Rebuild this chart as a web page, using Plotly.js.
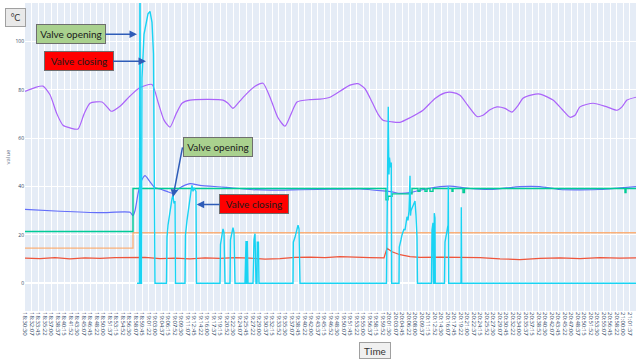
<!DOCTYPE html>
<html><head><meta charset="utf-8">
<script src="https://cdn.plot.ly/plotly-3.0.1.min.js"></script>
<style>html,body{margin:0;padding:0;background:#fff}#chart{width:640px;height:362px}</style>
</head><body><div id="chart"></div>
<script>
const DAY = '2021-01-01 ';

const purpleTimes = ["18:30:30","18:33:00","18:35:00","18:36:45","18:38:30","18:40:00","18:41:45","18:43:45","18:45:15","18:46:45",
  "18:49:45","18:51:00","18:52:00","18:54:15","18:56:45","18:59:15","19:02:15","19:03:45","19:05:15","19:06:45",
  "19:08:15","19:09:45","19:11:45","19:20:00","19:21:15","19:22:30","19:24:15","19:26:00","19:28:00","19:30:00",
  "19:31:45","19:33:45","19:35:30","19:37:00","19:38:30","19:41:45","19:44:15","19:46:45","19:49:15","19:51:45",
  "19:53:45","19:55:30","19:57:15","19:58:45","20:00:00","20:02:15","20:04:15","20:06:45","20:10:00","20:13:00",
  "20:15:30","20:17:15","20:19:15","20:21:15","20:23:30","20:25:00","20:26:45","20:28:30","20:30:30","20:32:15",
  "20:33:45","20:35:00","20:37:15","20:39:15","20:42:30","20:44:45","20:46:45","20:48:00","20:49:15","20:52:30",
  "20:56:00","20:58:30","20:59:45","21:01:00","21:03:15"];
const purpleVals = [79.4,81,81.6,78,70,65.4,64.3,63.8,70,74.5,
  75,73,71.2,73.3,77.5,81,82.3,75,67.5,64.6,
  70,74.5,75.8,75.8,74.5,72.4,75.5,78.6,81.5,82.8,
  77,68.5,65,70,75,76,76.2,77,79.5,82,
  82.6,80.5,75,70,67.5,66.8,66.6,68.5,71.6,76.5,
  78.8,79,77.8,73.5,69,69.5,71.8,73,72.4,70.8,
  73.5,76.6,78,78.3,75.8,72,68.7,69.5,73,74.5,
  73,71.6,73,75.8,77];

const blueTimes = ["18:30:30","18:39:15","18:49:15","18:56:45","18:57:30","18:58:00","18:58:45","18:59:30","19:00:30","19:01:45",
  "19:03:00","19:04:15","19:06:00","19:07:30","19:09:15","19:11:45","19:14:15","19:20:00","19:26:45","19:32:00",
  "19:39:15","19:47:30","19:54:15","20:00:00","20:02:15","20:04:15","20:06:45","20:09:15","20:14:15","20:16:45",
  "20:21:45","20:26:45","20:34:15","20:39:15","20:44:15","20:54:15","20:59:15","21:03:15"];
const blueVals = [30.6,29.8,29.2,29.4,28,30,37,42,44.5,42,
  39.5,39,38,37.2,39.5,41.2,40.5,39.8,38.8,38.5,
  38.7,38.9,39,38.2,37.8,37.2,37.5,38.5,40,40.2,
  39.2,38.8,40,40,38.8,38.8,39.5,40];

const greenTimes = ["18:30:30","18:57:30","20:00:45","20:01:15","20:02:15","20:07:15","20:08:45","20:09:15","20:10:30","20:11:00",
  "20:11:45","20:12:30","20:17:15","20:17:30","20:20:00","20:20:22","21:00:30","21:00:45","21:03:15"];
const greenVals = [21.4,39.2,34.5,36,37,39.2,38,39.2,38,39.2,
  38,39.2,38,39.2,37.5,39.2,37.5,39.2,39.2];

const orangeTimes = ["18:30:30","18:57:30","21:03:15"];
const orangeVals = [14.5,20.9,20.9];

const redTimes = ["18:30:30","18:34:15","18:38:00","18:41:45","18:45:30","18:49:15","18:53:00","18:56:45","19:00:30","19:04:15",
  "19:08:00","19:11:45","19:15:30","19:19:15","19:23:00","19:26:45","19:30:30","19:34:15","19:38:00","19:41:45",
  "19:45:30","19:49:15","19:53:00","19:56:45","20:00:15","20:01:00","20:02:15","20:04:15","20:06:45","20:09:15",
  "20:14:15","20:19:15","20:24:15","20:29:15","20:34:15","20:39:15","20:44:15","20:49:15","20:54:15","20:59:15","21:03:15"];
const redVals = [10.4,10.2,10.6,10.1,10.5,10.3,10.6,10.8,10.7,10.2,
  10.4,10.1,10.5,10.3,10.6,10.4,10.0,10.2,10.7,10.8,
  10.6,11.0,10.7,10.6,10.5,14.5,13,11.8,11,10.7,
  10.8,10.7,10.6,10.1,9.8,10.3,10.5,10.2,10.6,10.4,10.5];

const valveTimes = ["18:58:30","18:59:07","18:59:15","18:59:22","18:59:37","18:59:45","19:00:15","19:00:45","19:01:15","19:01:45",
  "19:02:15","19:02:37","19:02:52","19:03:00","19:05:52","19:06:00","19:06:15","19:06:30","19:06:45","19:07:00",
  "19:07:15","19:07:30","19:07:45","19:08:00","19:08:07","19:10:30","19:10:37","19:11:00","19:11:30","19:12:00",
  "19:12:15","19:12:30","19:12:45","19:13:15","19:13:22","19:19:15","19:19:22","19:19:45","19:20:00","19:20:15",
  "19:20:30","19:21:45","19:21:52","19:22:15","19:22:30","19:22:45","19:23:00","19:25:30","19:25:35","19:25:45",
  "19:25:50","19:26:00","19:26:05","19:26:15","19:27:30","19:27:35","19:27:45","19:28:00","19:28:15","19:28:30",
  "19:28:35","19:28:52","19:29:00","19:37:30","19:37:35","19:38:00","19:38:30","19:38:45","19:39:00","19:39:15",
  "20:00:52","20:01:07","20:01:19","20:01:30","20:01:37","20:01:52","20:02:04","20:02:10","20:04:00","20:04:04",
  "20:04:15","20:04:30","20:04:45","20:05:00","20:05:15","20:05:30","20:05:45","20:06:00","20:06:15","20:06:30",
  "20:06:45","20:06:52","20:07:00","20:07:15","20:07:30","20:07:45","20:08:00","20:08:15","20:08:30","20:08:37",
  "20:12:07","20:12:15","20:12:30","20:12:37","20:12:45","20:12:49","20:13:00","20:13:04","20:15:22","20:15:30",
  "20:15:45","20:16:00","20:16:15","20:16:19","20:16:25","20:19:30","20:19:34","20:19:40","21:03:15"];
const valveVals = [0,0,150,0,0,85,103,108,111.5,112.5,
  108,95,50,0,0,19,24,27,31,33,
  35,36.5,33,34,0,0,20,26,33,38,
  40.5,38,39.5,38,0,0,16,20,22.5,21,
  0,0,18,21,23,21,0,0,17.5,17.5,
  0,0,17.5,0,0,17,18,20.5,0,0,
  17,17,0,0,17,19,22,24,22.5,0,
  0,55,73,45,52,48,50,0,0,15,
  17,18,20,21,22.5,22,25,27.5,26,30,
  44.5,28,30,31,32,33,34,28,19,0,
  0,22,25,0,0,29,27,0,0,17,
  19,22,24,40,0,0,31.5,0,0];

const notes = [
  {text:"Valve opening", t:"18:58:30", v:103.1, ax:-66, ay:0, bg:"#a9d18e", anchor:"center"},
  {text:"Valve closing", t:"19:00:45", v:91.9, ax:-67.5, ay:0, bg:"#ff0000", anchor:"center"},
  {text:"Valve opening", t:"19:07:30", v:35.7, ax:9.5, ay:-49.7, bg:"#a9d18e", anchor:"left"},
  {text:"Valve closing", t:"19:13:25", v:32.6, ax:57.3, ay:0, bg:"#ff0000", anchor:"center"}
];

const d = arr => arr.map(t => DAY + t);

const traces = [
  {x:d(purpleTimes), y:purpleVals, mode:'lines', line:{color:'#ab63fa', width:1.2, shape:'spline', smoothing:0.6}},
  {x:d(blueTimes), y:blueVals, mode:'lines', line:{color:'#636efa', width:1.2, shape:'spline', smoothing:0.6}},
  {x:d(orangeTimes), y:orangeVals, mode:'lines', line:{color:'#ffa15a', width:1.3, shape:'hv'}, opacity:0.8},
  {x:d(redTimes), y:redVals, mode:'lines', line:{color:'#ef553b', width:1.2}},
  {x:d(greenTimes), y:greenVals, mode:'lines', line:{color:'#00cc96', width:1.4, shape:'hv'}},
  {x:d(valveTimes), y:valveVals, mode:'lines', line:{color:'#19d3f3', width:1.4}}
];

const annotations = notes.map(n => ({
  x: DAY + n.t, y: n.v, xref:'x', yref:'y', text:n.text, showarrow:true,
  ax:n.ax, ay:n.ay, xanchor:n.anchor, yanchor:'middle',
  arrowhead:2, arrowsize:1, arrowwidth:1.5, arrowcolor:'#2e5cb8',
  bgcolor:n.bg, bordercolor:'#6e6e6e', borderwidth:1, borderpad:3,
  width:62, height:12,
  font:{family:'Lato, sans-serif', size:10, color:'#1a1a1a'}
}));
annotations.push({
  xref:'paper', yref:'paper', x:-0.0155, y:0.952, text:'°C', showarrow:false,
  xanchor:'center', yanchor:'middle', bgcolor:'#e9e9e9', bordercolor:'#a0a0a0', borderwidth:1,
  borderpad:1, width:17, height:15, font:{family:'Lato, sans-serif', size:9, color:'#333'}
});
annotations.push({
  xref:'paper', yref:'paper', x:0.5728, y:-0.129, text:'Time', showarrow:false,
  xanchor:'center', yanchor:'middle', bgcolor:'#f0f0f0', bordercolor:'#a0a0a0', borderwidth:1,
  borderpad:1, width:28, height:13, font:{family:'Lato, sans-serif', size:10, color:'#333'}
});

const layout = {
  width:640, height:362,
  margin:{l:25, r:4, t:3, b:51},
  paper_bgcolor:'#ffffff', plot_bgcolor:'#E5ECF6',
  showlegend:false,
  font:{family:'"Open Sans", sans-serif', color:'#2a3f5f'},
  xaxis:{
    type:'date', tickformat:'%H:%M:%S', tick0:DAY + purpleTimes[0], dtick:97500,
    tickangle:90, tickfont:{size:6, color:'#2a3f5f'},
    range:[DAY + purpleTimes[0], DAY + purpleTimes[purpleTimes.length-1]],
    gridcolor:'#ffffff', gridwidth:1, showline:false, zeroline:false, ticks:''
  },
  yaxis:{
    range:[-11.5, 116], tick0:0, dtick:20, tickfont:{size:5, color:'#2a3f5f'},
    gridcolor:'#ffffff', gridwidth:1, zeroline:true, zerolinecolor:'#ffffff', zerolinewidth:2,
    ticks:'', title:{text:'value', font:{size:6, color:'#6b7a90'}, standoff:4}
  },
  annotations: annotations
};

Plotly.newPlot('chart', traces, layout, {staticPlot:true, displayModeBar:false});
</script>
</body></html>
